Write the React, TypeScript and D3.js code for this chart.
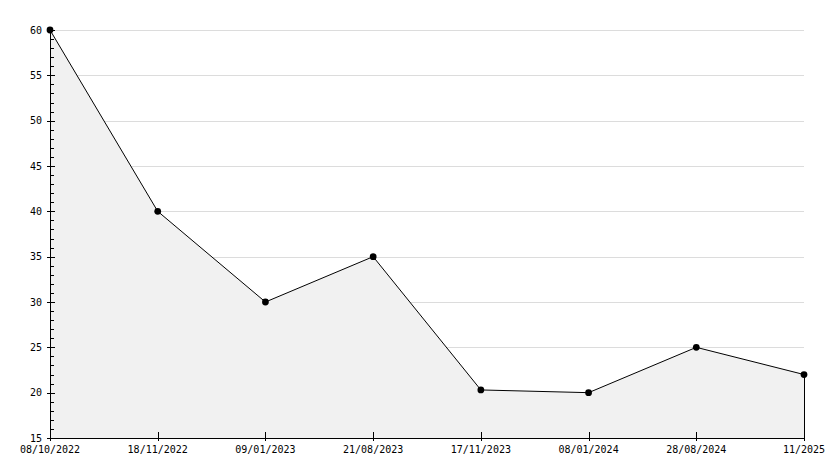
import React from "react";
import * as d3 from "d3";

const categories = ["08/10/2022", "18/11/2022", "09/01/2023", "21/08/2023", "17/11/2023", "08/01/2024", "28/08/2024", "11/2025"];
const values = [60, 40, 30, 35, 20.3, 20, 25, 22];
const yTicks = [15, 20, 25, 30, 35, 40, 45, 50, 55, 60];

const W = 834, H = 468;
const left = 50, right = 804, top = 30, bottom = 438;
const font = "'DejaVu Sans Mono', monospace";

export default function App() {
  const x = d3.scalePoint<string>().domain(categories).range([left, right]);
  const y = d3.scaleLinear().domain([15, 60]).range([bottom, top]);
  const data = categories.map((c, i) => ({ c, v: values[i] }));
  const line = d3.line<{ c: string; v: number }>().x(d => x(d.c)!).y(d => y(d.v));
  const area = d3.area<{ c: string; v: number }>().x(d => x(d.c)!).y0(y(15)).y1(d => y(d.v));
  const minor = d3.range(15, 61, 1);
  return (
    <svg width={W} height={H} style={{ position: "absolute", left: 0, top: 0, background: "#fff" }}>
      {yTicks.filter(t => t > 15).map(t => (
        <line key={"g" + t} x1={left} x2={right} y1={Math.round(y(t)) + 0.5} y2={Math.round(y(t)) + 0.5} stroke="#dcdcdc" strokeWidth={1} />
      ))}
      <path d={area(data)!} fill="#f1f1f1" stroke="none" />
      <line x1={right + 0.5} x2={right + 0.5} y1={y(values[values.length - 1])} y2={bottom} stroke="#000" />
      <path d={line(data)!} fill="none" stroke="#000" strokeWidth={1} />
      {/* y axis */}
      <line x1={left + 0.5} x2={left + 0.5} y1={top} y2={bottom + 0.5} stroke="#000" />
      {minor.map(t => (
        <line key={"m" + t} x1={left} x2={left + 4} y1={Math.round(y(t)) + 0.5} y2={Math.round(y(t)) + 0.5} stroke="#000" />
      ))}
      {yTicks.map(t => (
        <g key={"y" + t}>
          <line x1={left - 3} x2={left + 5} y1={Math.round(y(t)) + 0.5} y2={Math.round(y(t)) + 0.5} stroke="#000" />
          <text x={left - 8} y={y(t)} dy="0.35em" textAnchor="end" fontFamily={font} fontSize={10} fill="#000">{t}</text>
        </g>
      ))}
      {/* x axis */}
      <line x1={left} x2={right + 1} y1={bottom + 0.5} y2={bottom + 0.5} stroke="#000" />
      {categories.map(c => (
        <g key={"x" + c}>
          <line x1={Math.round(x(c)!) + 0.5} x2={Math.round(x(c)!) + 0.5} y1={bottom - 6} y2={bottom + 3} stroke="#000" />
          <text x={x(c)!} y={bottom + 11} dy="0.35em" textAnchor="middle" fontFamily={font} fontSize={10} fill="#000">{c}</text>
        </g>
      ))}
      {data.map(d => (
        <path key={"p" + d.c} transform={`translate(${x(d.c)},${y(d.v)})`} d={d3.symbol(d3.symbolCircle, 36)()!} fill="#000" />
      ))}
    </svg>
  );
}
